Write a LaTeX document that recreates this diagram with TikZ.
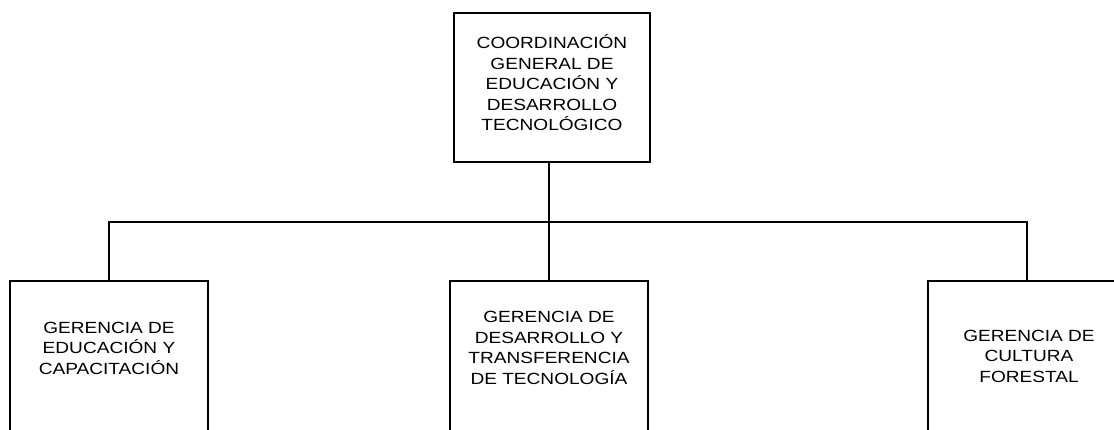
\documentclass[tikz,border=0pt]{standalone}
\usepackage{fontspec}
\setmainfont{Liberation Sans}[FakeStretch=1.18]
\usetikzlibrary{positioning}

\begin{document}
\begin{tikzpicture}[%
        x=0.025cm, y=-0.025cm,
        every node/.style={rectangle, inner sep=0pt, align=center, font=\fontsize{11.5}{14.6}\selectfont},
        unit/.style={draw, line width=1pt, minimum width=4.95cm, minimum height=5cm},
        line width=1pt
      ]
      \useasboundingbox (0,0) rectangle (1114,429);
      \clip (0,0) rectangle (1114,429);
      % boxes
      \node [unit] (coord) [minimum width=4.9cm, minimum height=3.725cm] at (552,87.5) {};
      \node [unit] (ger1) at (109,381) {};
      \node [unit] (ger2) at (549,381) {};
      \node [unit] (ger3) at (1027,381) {};
      % texts
      \node (coordtxt) at (552,83) {COORDINACIÓN\\GENERAL DE\\EDUCACIÓN Y\\DESARROLLO\\TECNOLÓGICO};
      \node (ger1txt) at (109,348) {GERENCIA DE\\EDUCACIÓN Y\\CAPACITACIÓN};
      \node (ger2txt) at (549,348) {GERENCIA DE\\DESARROLLO Y\\TRANSFERENCIA\\DE TECNOLOGÍA};
      \node (ger3txt) at (1029,356) {GERENCIA DE\\CULTURA\\FORESTAL};
      \coordinate (bus) at (549,222);
      \draw (coord.south -| ger2.north) -- (ger2.north);
      \draw (ger1.north) -- (ger1.north |- bus) -- (ger3.north |- bus) -- (ger3.north);
    \end{tikzpicture}
\end{document}
